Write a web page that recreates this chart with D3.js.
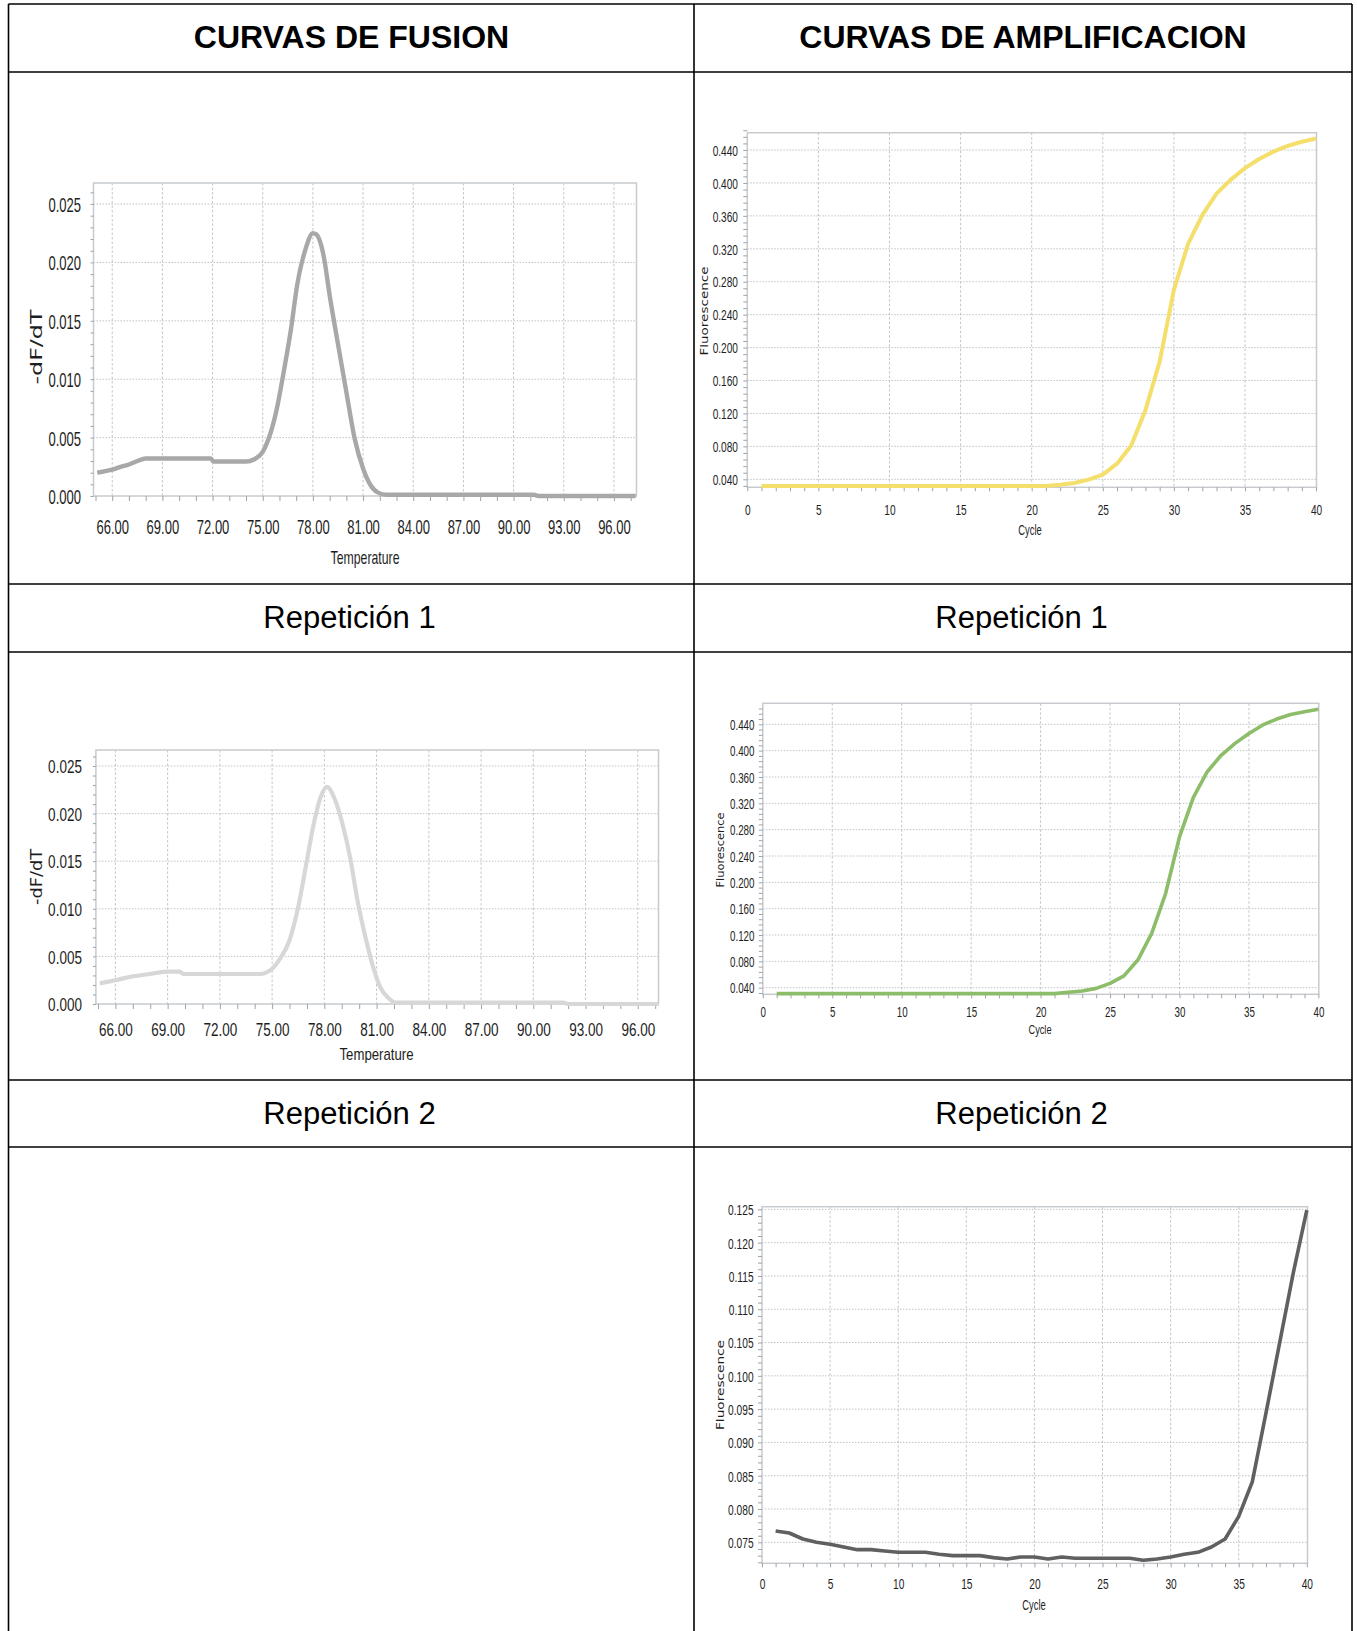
<!DOCTYPE html>
<html>
<head>
<meta charset="utf-8">
<script src="https://cdnjs.cloudflare.com/ajax/libs/d3/7.8.5/d3.min.js"></script>
<style>
  html, body { margin: 0; padding: 0; background: #ffffff; }
  svg { display: block; }
</style>
</head>
<body>
<svg id="chart" width="1357" height="1631"></svg>
<script>
// ---------------- DATA ----------------
const headerLabels = ["CURVAS DE FUSION", "CURVAS DE AMPLIFICACION"];
const rowLabels = ["Repetición 1", "Repetición 2"];

// Melt curve, replicate 1 (temperature, -dF/dT)
const fusion1Temp = [65.1, 65.5, 66.0, 66.5, 67.0, 67.5, 68.0, 70.0, 71.9, 72.05, 73.0, 74.0, 74.5, 75.0, 75.35, 75.8, 76.3, 76.7, 77.05, 77.55, 78.0, 78.2, 78.65, 79.0, 79.5, 80.0, 80.5, 81.0, 81.45, 81.9, 82.4, 85.0, 88.0, 91.2, 91.5, 94.0, 97.3];
const fusion1Val  = [0.0020, 0.0021, 0.00226, 0.0025, 0.0027, 0.0030, 0.00321, 0.00321, 0.00321, 0.00295, 0.00295, 0.00295, 0.00315, 0.00378, 0.0049, 0.0072, 0.0110, 0.0144, 0.0180, 0.0211, 0.0225, 0.0224, 0.0205, 0.0172, 0.0130, 0.0089, 0.0049, 0.00235, 0.00092, 0.00029, 0.00011, 0.00011, 0.00011, 0.00011, 0.0000, 0.0000, 0.0000];

// Melt curve, replicate 2
const fusion2Temp = [65.1, 66.0, 67.0, 68.0, 69.0, 69.7, 69.9, 71.0, 74.3, 75.0, 75.4, 76.0, 76.5, 77.0, 77.4, 77.8, 78.15, 78.6, 79.0, 79.5, 79.9, 80.4, 80.8, 81.2, 81.7, 82.1, 91.7, 92.0, 97.2];
const fusion2Val  = [0.00217, 0.0025, 0.0029, 0.00315, 0.0034, 0.0034, 0.00315, 0.00315, 0.00315, 0.0037, 0.0046, 0.0067, 0.0102, 0.0151, 0.0190, 0.0218, 0.0228, 0.0215, 0.0192, 0.0152, 0.0109, 0.0067, 0.0039, 0.0018, 0.0006, 0.00014, 0.00014, 0.0000, 0.0000];

// Amplification curves (cycle 1..40)
const cycles = [1,2,3,4,5,6,7,8,9,10,11,12,13,14,15,16,17,18,19,20,21,22,23,24,25,26,27,28,29,30,31,32,33,34,35,36,37,38,39,40];
const amp1Val = [0.032,0.032,0.032,0.032,0.032,0.032,0.032,0.032,0.032,0.032,0.032,0.032,0.032,0.032,0.032,0.032,0.032,0.032,0.032,0.032,0.032,0.0335,0.0355,0.0396,0.0457,0.059,0.081,0.124,0.183,0.270,0.326,0.361,0.387,0.404,0.418,0.429,0.438,0.445,0.450,0.454];
const amp2Val = [0.031,0.031,0.031,0.031,0.031,0.031,0.031,0.031,0.031,0.031,0.031,0.031,0.031,0.031,0.031,0.031,0.031,0.031,0.031,0.031,0.031,0.033,0.035,0.039,0.0466,0.058,0.082,0.1225,0.183,0.269,0.329,0.368,0.393,0.411,0.426,0.439,0.448,0.455,0.459,0.463];
const amp3Val = [0.0767,0.0764,0.0755,0.0750,0.0747,0.0743,0.0739,0.0739,0.0737,0.0735,0.0735,0.0735,0.0732,0.0730,0.0730,0.0730,0.0727,0.0725,0.0728,0.0728,0.0725,0.0728,0.0726,0.0726,0.0726,0.0726,0.0726,0.0723,0.0725,0.0728,0.0732,0.0735,0.0743,0.0755,0.0789,0.0841,0.0944,0.1049,0.1154,0.1249];

// Tick labels
const fusionXTicks = [66, 69, 72, 75, 78, 81, 84, 87, 90, 93, 96];
const fusionYTicks = [0.000, 0.005, 0.010, 0.015, 0.020, 0.025];
const ampXTicks = [0, 5, 10, 15, 20, 25, 30, 35, 40];
const ampYTicks = [0.040, 0.080, 0.120, 0.160, 0.200, 0.240, 0.280, 0.320, 0.360, 0.400, 0.440];
const amp3YTicks = [0.075, 0.080, 0.085, 0.090, 0.095, 0.100, 0.105, 0.110, 0.115, 0.120, 0.125];

// ---------------- DRAWING ----------------
const svg = d3.select("#chart");
svg.append("rect").attr("width", 1357).attr("height", 1631).attr("fill", "#fff");

const LABEL_FONT = "'Liberation Sans', Arial, sans-serif";
const TITLE_FONT = "'DejaVu Sans', Verdana, sans-serif";

function drawChart(c) {
  const g = svg.append("g");
  const x = d3.scaleLinear().domain(c.xDomain).range([c.x0, c.x1]);
  const y = d3.scaleLinear().domain(c.yDomain).range([c.y1, c.y0]);

  // grid
  g.append("g").selectAll("line").data(c.xGrid).join("line")
    .attr("x1", d => x(d)).attr("x2", d => x(d))
    .attr("y1", c.y0).attr("y2", c.y1)
    .attr("stroke", "#c3c6c9").attr("stroke-width", 1)
    .attr("stroke-dasharray", "2.5,2");
  g.append("g").selectAll("line").data(c.yGrid).join("line")
    .attr("x1", c.x0).attr("x2", c.x1)
    .attr("y1", d => y(d)).attr("y2", d => y(d))
    .attr("stroke", "#bfc2c5").attr("stroke-width", 1)
    .attr("stroke-dasharray", "1.5,1.5");

  // frame
  g.append("rect")
    .attr("x", c.x0).attr("y", c.y0)
    .attr("width", c.x1 - c.x0).attr("height", c.y1 - c.y0)
    .attr("fill", "none").attr("stroke", "#c7cbcf").attr("stroke-width", 1.5);

  // minor ticks
  const xMinorAxis = g.append("g").attr("transform", `translate(0,${c.y1})`)
    .call(d3.axisBottom(x).tickValues(c.xMinor).tickSize(c.xTick).tickFormat(""));
  xMinorAxis.select(".domain").remove();
  xMinorAxis.selectAll("line").attr("stroke", "#9ea3a8");

  const yMinorAxis = g.append("g").attr("transform", `translate(${c.x0},0)`)
    .call(d3.axisLeft(y).tickValues(c.yMinor).tickSize(c.yTick).tickFormat(""));
  yMinorAxis.select(".domain").remove();
  yMinorAxis.selectAll("line").attr("stroke", "#9ea3a8");

  // labelled axes
  const xAxis = g.append("g").attr("transform", `translate(0,${c.y1})`)
    .call(d3.axisBottom(x).tickValues(c.xTicks).tickSize(0).tickFormat(d3.format(c.xFmt)));
  xAxis.select(".domain").remove();
  xAxis.selectAll("text")
    .attr("y", c.xLabOff).attr("dy", "0.36em")
    .attr("font-size", c.fs).attr("font-family", LABEL_FONT).attr("fill", "#1e1e1e")
    .attr("transform", `scale(${c.sx},1)`);

  const yAxis = g.append("g").attr("transform", `translate(${c.x0},0)`)
    .call(d3.axisLeft(y).tickValues(c.yTicks).tickSize(0).tickFormat(d3.format(c.yFmt)));
  yAxis.select(".domain").remove();
  yAxis.selectAll("text")
    .attr("x", -c.yLabOff / c.sx).attr("dy", "0.36em")
    .attr("font-size", c.fs).attr("font-family", LABEL_FONT).attr("fill", "#1e1e1e")
    .attr("transform", `scale(${c.sx},1)`);

  // curve
  const pts = d3.zip(c.xs, c.ys);
  g.append("path").datum(pts)
    .attr("fill", "none").attr("stroke", c.color).attr("stroke-width", c.sw)
    .attr("stroke-linejoin", "round").attr("stroke-linecap", "butt")
    .attr("d", d3.line().x(d => x(d[0])).y(d => y(d[1])).curve(c.curve));

  // axis titles
  g.append("text").text(c.xTitle)
    .attr("x", c.xt[0]).attr("y", c.xt[1]).attr("dy", "0.36em")
    .attr("text-anchor", "middle").attr("font-family", LABEL_FONT)
    .attr("font-size", c.xtFs).attr("fill", "#1e1e1e")
    .attr("textLength", c.xtLen).attr("lengthAdjust", "spacingAndGlyphs");
  g.append("text").text(c.yTitle)
    .attr("transform", `translate(${c.yt[0]},${c.yt[1]}) rotate(-90)`)
    .attr("dy", "0.36em")
    .attr("text-anchor", "middle").attr("font-family", TITLE_FONT)
    .attr("font-size", c.ytFs).attr("fill", "#1e1e1e")
    .attr("textLength", c.ytLen).attr("lengthAdjust", "spacingAndGlyphs");
}

const fusionXMinor = d3.range(65, 98, 1);
const fusionYMinor = d3.range(0, 0.0265, 0.001);

drawChart({
  x0: 93.5, x1: 636.5, y0: 183, y1: 496,
  xDomain: [64.88, 97.35], yDomain: [0, 0.0268],
  xTicks: fusionXTicks, yTicks: fusionYTicks, xFmt: ".2f", yFmt: ".3f",
  xGrid: fusionXTicks, yGrid: fusionYTicks.slice(1),
  xMinor: fusionXMinor, yMinor: fusionYMinor, xTick: 5, yTick: 3,
  fs: 21, sx: 0.62, xLabOff: 30, yLabOff: 12.5,
  xs: fusion1Temp, ys: fusion1Val, color: "#a8a8a8", sw: 4.4, curve: d3.curveMonotoneX,
  xTitle: "Temperature", xt: [365, 557], xtFs: 19, xtLen: 69,
  yTitle: "-dF/dT", yt: [36, 347], ytFs: 16, ytLen: 75
});

drawChart({
  x0: 95.9, x1: 658.5, y0: 750, y1: 1004,
  xDomain: [64.88, 97.19], yDomain: [0, 0.02668],
  xTicks: fusionXTicks, yTicks: fusionYTicks, xFmt: ".2f", yFmt: ".3f",
  xGrid: fusionXTicks, yGrid: fusionYTicks.slice(1),
  xMinor: fusionXMinor, yMinor: fusionYMinor, xTick: 5, yTick: 3,
  fs: 18.5, sx: 0.73, xLabOff: 25, yLabOff: 14,
  xs: fusion2Temp, ys: fusion2Val, color: "#d7d7d7", sw: 4.2, curve: d3.curveMonotoneX,
  xTitle: "Temperature", xt: [376.5, 1053.5], xtFs: 17, xtLen: 74,
  yTitle: "-dF/dT", yt: [37, 877], ytFs: 15, ytLen: 56
});

const ampXMinor = d3.range(0, 41, 1);
const ampYMinor = d3.range(0.032, 0.47, 0.008);
const amp3YMinor = d3.range(0.072, 0.1255, 0.001);

drawChart({
  x0: 747.3, x1: 1316.5, y0: 132.7, y1: 487.3,
  xDomain: [0, 40.03], yDomain: [0.0303, 0.461],
  xTicks: ampXTicks, yTicks: ampYTicks, xFmt: "d", yFmt: ".3f",
  xGrid: ampXTicks.slice(1, -1), yGrid: ampYTicks,
  xMinor: ampXMinor, yMinor: ampYMinor, xTick: 4, yTick: 4,
  fs: 14.5, sx: 0.70, xLabOff: 22.7, yLabOff: 9.3,
  xs: cycles, ys: amp1Val, color: "#f4df6c", sw: 4, curve: d3.curveLinear,
  xTitle: "Cycle", xt: [1030, 530], xtFs: 14, xtLen: 23.5,
  yTitle: "Fluorescence", yt: [704, 311], ytFs: 11, ytLen: 89
});

drawChart({
  x0: 762.8, x1: 1318.8, y0: 703.3, y1: 994.3,
  xDomain: [0, 40.03], yDomain: [0.030, 0.4719],
  xTicks: ampXTicks, yTicks: ampYTicks, xFmt: "d", yFmt: ".3f",
  xGrid: ampXTicks.slice(1, -1), yGrid: ampYTicks,
  xMinor: ampXMinor, yMinor: ampYMinor, xTick: 4, yTick: 4,
  fs: 14, sx: 0.70, xLabOff: 17.4, yLabOff: 8.3,
  xs: cycles, ys: amp2Val, color: "#8dbd69", sw: 3.6, curve: d3.curveLinear,
  xTitle: "Cycle", xt: [1040, 1029.5], xtFs: 13.5, xtLen: 23,
  yTitle: "Fluorescence", yt: [720, 850], ytFs: 10, ytLen: 75
});

drawChart({
  x0: 762, x1: 1307.5, y0: 1206.7, y1: 1563.3,
  xDomain: [0, 40.05], yDomain: [0.07185, 0.1254],
  xTicks: ampXTicks, yTicks: amp3YTicks, xFmt: "d", yFmt: ".3f",
  xGrid: ampXTicks.slice(1, -1), yGrid: amp3YTicks,
  xMinor: ampXMinor, yMinor: amp3YMinor, xTick: 4, yTick: 4,
  fs: 15, sx: 0.68, xLabOff: 20.7, yLabOff: 8.4,
  xs: cycles, ys: amp3Val, color: "#606060", sw: 3.6, curve: d3.curveLinear,
  xTitle: "Cycle", xt: [1034, 1604.5], xtFs: 14, xtLen: 23.5,
  yTitle: "Fluorescence", yt: [720, 1385], ytFs: 11, ytLen: 90
});

// ---------------- TABLE ----------------
const tbl = svg.append("g").attr("stroke", "#000").attr("stroke-width", 1.6);
const vLines = [8.5, 694, 1352];
const hLines = [4, 72, 584, 652, 1080, 1147];
tbl.selectAll("line.v").data(vLines).join("line").attr("class", "v")
  .attr("x1", d => d).attr("x2", d => d).attr("y1", 4).attr("y2", 1631);
tbl.selectAll("line.h").data(hLines).join("line").attr("class", "h")
  .attr("x1", 8.5).attr("x2", 1352).attr("y1", d => d).attr("y2", d => d);

const colCenters = [351.5, 1023];
svg.selectAll("text.hdr").data(headerLabels).join("text").attr("class", "hdr")
  .attr("x", (d, i) => colCenters[i]).attr("y", 47.5)
  .attr("text-anchor", "middle").attr("font-family", "'Liberation Sans', Arial, sans-serif")
  .attr("font-weight", "bold").attr("font-size", 32).attr("fill", "#000")
  .text(d => d);

const rowBaselines = [627.5, 1123.5];
rowLabels.forEach((lab, r) => {
  colCenters.forEach((cx, i) => {
    svg.append("text").attr("x", i === 0 ? 349.5 : 1021.5).attr("y", rowBaselines[r])
      .attr("text-anchor", "middle").attr("font-family", "'Liberation Sans', Arial, sans-serif")
      .attr("font-size", 31).attr("fill", "#000").text(lab);
  });
});
</script>
</body>
</html>
